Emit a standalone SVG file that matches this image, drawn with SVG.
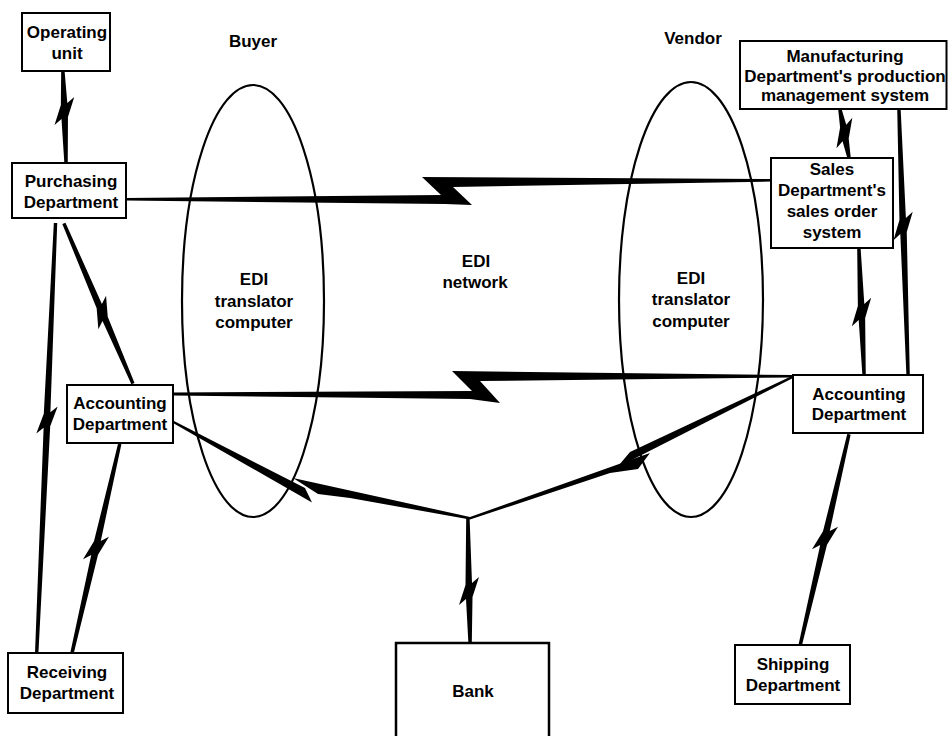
<svg xmlns="http://www.w3.org/2000/svg" width="948" height="736" viewBox="0 0 948 736">
<style>
.box{fill:#fff;stroke:#000;stroke-width:2}
.ell{fill:none;stroke:#000;stroke-width:2.2}
.t{font-family:"Liberation Sans",Arial,Helvetica,sans-serif;font-size:17px;font-weight:bold;text-anchor:middle;fill:#000}
.w{fill:#000;stroke:none}
</style>
<rect width="948" height="736" fill="#fff"/>

<g id="buyer-edi-translator">
<ellipse class="ell" cx="253" cy="301" rx="71" ry="216"/>
<text class="t" x="254" y="285">EDI</text>
<text class="t" x="254" y="306.5">translator</text>
<text class="t" x="254" y="328">computer</text>
</g>
<g id="vendor-edi-translator">
<ellipse class="ell" cx="691" cy="299.5" rx="72" ry="217.5"/>
<text class="t" x="691" y="283.5">EDI</text>
<text class="t" x="691" y="305">translator</text>
<text class="t" x="691" y="326.5">computer</text>
</g>
<g id="edi-network">
<text class="t" x="476" y="267">EDI</text>
<text class="t" x="475" y="288">network</text>
</g>
<g id="side-labels">
<text class="t" x="253" y="47">Buyer</text>
<text class="t" x="693" y="44">Vendor</text>
</g>

<g id="connectors">
<!-- EDI network links -->
<polygon class="w" points="422,177 772,179 772,181.5 453,187 472,205 445,204 126,200.5 126,198 441,195"/>
<polygon class="w" points="452,371 793,375 793,377.5 480,381 500,403 470,399 173,395.5 173,392.5 472,391"/>
<!-- links to bank -->
<polygon class="w" points="173,420.5 305,488 312,502.5 173,423"/>
<polygon class="w" points="293,478 470,517 470,519.5 350,498 318,494"/>
<polygon class="w" points="470,517 650,453 638,469 610,473 470,519.5"/>
<polygon class="w" points="793,375.5 630,452 617,467.5 793,378"/>
<!-- small lightning links -->
<polygon class="w" transform="translate(64.4 111) rotate(89.4)" points="-40,2.8 -6,3.5 14,10 8,3 52,0.6 52,-2.8 6,-3.5 -14,-10 -8,-3 -40,-0.6"/>
<polygon class="w" transform="translate(47 420) rotate(92.8)" points="-197.2,2.8 -6,3.5 14,10 8,3 233.3,0.6 233.3,-2.8 6,-3.5 -14,-10 -8,-3 -197.2,-0.6"/>
<polygon class="w" transform="translate(102.2 312.5) rotate(67.4)" points="-97,2.8 -6,3.5 14,10 8,3 77.4,0.6 77.4,-2.8 6,-3.5 -14,-10 -8,-3 -97,-0.6"/>
<polygon class="w" transform="translate(96 548) rotate(103.45)" points="-106.7,2.8 -6,3.5 14,10 8,3 108.2,0.6 108.2,-2.8 6,-3.5 -14,-10 -8,-3 -106.7,-0.6"/>
<polygon class="w" transform="translate(844.4 133) rotate(81.9)" points="-24.2,2.8 -6,3.5 14,10 8,3 25.3,0.6 25.3,-2.8 6,-3.5 -14,-10 -8,-3 -24.2,-0.6"/>
<polygon class="w" transform="translate(861.5 312) rotate(88.65)" points="-64,2.8 -6,3.5 14,10 8,3 63,0.6 63,-2.8 6,-3.5 -14,-10 -8,-3 -64,-0.6"/>
<polygon class="w" transform="translate(903.1 226) rotate(88.5)" points="-117,2.8 -6,3.5 14,10 8,3 149,0.6 149,-2.8 6,-3.5 -14,-10 -8,-3 -117,-0.6"/>
<polygon class="w" transform="translate(825 538) rotate(103.6)" points="-106.5,2.8 -6,3.5 14,10 8,3 110.6,0.6 110.6,-2.8 6,-3.5 -14,-10 -8,-3 -106.5,-0.6"/>
<polygon class="w" transform="translate(469 591) rotate(90)" points="-73,2.8 -6,3.5 14,10 8,3 52,0.6 52,-2.8 6,-3.5 -14,-10 -8,-3 -73,-0.6"/>
</g>

<g id="operating-unit">
<rect class="box" x="22" y="13" width="88" height="58"/>
<text class="t" x="67" y="37.5">Operating</text>
<text class="t" x="67" y="58.5">unit</text>
</g>
<g id="purchasing-department">
<rect class="box" x="12" y="163" width="114" height="55"/>
<text class="t" x="71" y="187">Purchasing</text>
<text class="t" x="71" y="208">Department</text>
</g>
<g id="accounting-department-buyer">
<rect class="box" x="67" y="385" width="106" height="58"/>
<text class="t" x="120" y="409">Accounting</text>
<text class="t" x="120" y="430">Department</text>
</g>
<g id="receiving-department">
<rect class="box" x="8" y="653" width="115" height="60"/>
<text class="t" x="67" y="677.5">Receiving</text>
<text class="t" x="67" y="698.5">Department</text>
</g>
<g id="bank">
<rect class="box" x="396" y="643" width="153" height="110" style="stroke-width:2.5"/>
<text class="t" x="473" y="697">Bank</text>
</g>
<g id="manufacturing-production-management-system">
<rect class="box" x="740" y="41" width="206.5" height="68"/>
<text class="t" x="845" y="62">Manufacturing</text>
<text class="t" x="845" y="81.5">Department's production</text>
<text class="t" x="845" y="100.5">management system</text>
</g>
<g id="sales-order-system">
<rect class="box" x="771" y="158" width="122" height="90"/>
<text class="t" x="832" y="175">Sales</text>
<text class="t" x="832" y="196">Department's</text>
<text class="t" x="832" y="217">sales order</text>
<text class="t" x="832" y="238">system</text>
</g>
<g id="accounting-department-vendor">
<rect class="box" x="793" y="375" width="130" height="58"/>
<text class="t" x="859" y="399.5">Accounting</text>
<text class="t" x="859" y="419.5">Department</text>
</g>
<g id="shipping-department">
<rect class="box" x="735" y="645" width="115" height="59"/>
<text class="t" x="793" y="670">Shipping</text>
<text class="t" x="793" y="691">Department</text>
</g>
</svg>
